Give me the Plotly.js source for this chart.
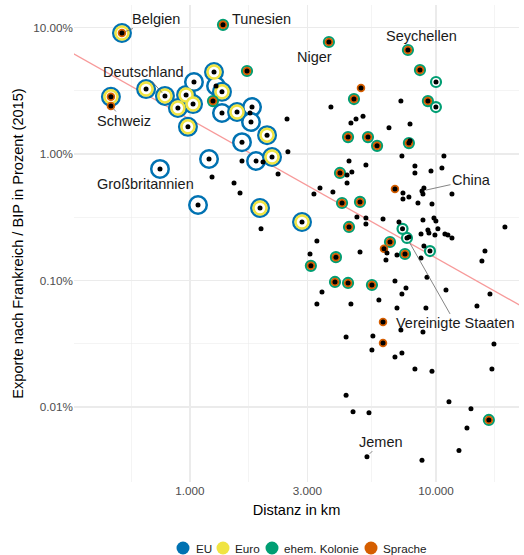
<!DOCTYPE html>
<html><head><meta charset="utf-8">
<script src="https://cdn.plot.ly/plotly-3.0.1.min.js"></script>
<style>body{margin:0;background:#fff}</style></head>
<body><div id="chart" style="width:524px;height:555px"></div>
<script>
// ---- Daten ----
const land = ["Belgien","Tunesien","Niger","Seychellen","Deutschland","Schweiz","Großbritannien","China","Vereinigte Staaten","Jemen"];
const distanz = [529,1362,3670,7690,791,477,755,8770,7620,5240,
 477,663,964,893,1029,981,1038,1252,1276,1349,1349,1553,1787,1770,1627,1855,2155,2057,1195,1078,1926,2853,
 1754,1229,1627,1981,1510,1597,1944,2480,2500,2280,
 1705,1240,8605,10000,9270,9990,4955,4640,4390,5290,5760,7760,4071,4150,4909,4430,6500,6145,7480,6810,3100,3920,3885,4390,5490,6090,6090,16400,7310,9450,
 3740,7200,5050,4730,4510,6440,7840,7840,4430,5190,4350,4550,4350,3376,3190,3810,7270,8210,8210,9540,10770,10570,
 8930,8850,7340,7760,7340,8445,9630,11610,4770,5190,5190,6090,3280,3075,4910,7070,7760,6320,6940,6260,
 8850,9810,9990,9270,9360,10180,9900,8690,10870,11180,11610,8930,8690,19060,15810,15370,
 6810,7550,7270,9190,3440,3280,4510,5860,6940,9100,10980,16570,14670,7200,8850,4310,5540,5490,6810,7270,8210,9630,
 17200,16880,4310,4600,5340,11290,13870,13360,12400,8770];
const anteil = [9.05,10.5,7.68,6.64,2.88,2.40,0.762,0.510,0.217,0.00405,
 2.83,3.26,2.93,2.31,2.48,1.64,3.71,4.45,3.45,3.10,2.11,2.15,2.35,1.79,1.24,0.881,0.947,1.41,0.913,0.395,0.374,0.290,
 2.11,0.659,0.881,0.865,0.590,0.491,0.256,1.89,1.04,0.696,
 4.53,2.62,4.61,3.71,2.62,2.35,3.32,2.72,1.36,1.36,1.16,1.22,0.708,0.410,0.418,0.265,0.2015,0.178,0.162,0.529,0.1306,0.153,0.0974,0.0956,0.0921,0.0470,0.0321,0.0079,0.256,0.171,
 2.35,2.62,1.99,1.89,1.76,1.61,1.73,1.27,0.881,0.819,0.683,0.721,0.590,0.539,0.483,0.500,0.964,0.804,0.708,0.734,0.964,0.776,
 0.539,0.483,0.491,0.457,0.441,0.410,0.403,0.483,0.318,0.3125,0.280,0.307,0.205,0.162,0.168,0.290,0.221,0.165,0.159,0.145,
 0.301,0.3125,0.296,0.251,0.2375,0.256,0.229,0.233,0.233,0.229,0.217,0.1876,0.1506,0.265,0.171,0.1424,
 0.0992,0.0872,0.0782,0.106,0.0811,0.0652,0.0652,0.0701,0.0606,0.0606,0.0841,0.0782,0.0628,0.0406,0.0392,0.0358,0.0364,0.0282,0.0249,0.0267,0.0200,0.0192,
 0.0315,0.0200,0.0124,0.00916,0.0090,0.0110,0.00967,0.00682,0.00452,0.0038];
// E = EU, U = Euro, K = ehem. Kolonie, S = Sprache
const merkmal = ["EUS","KS","KS","KS","EU","S","E","","K","",
 "EUS","EU","EU","EU","EU","EU","E","EU","E","EU","E","EU","E","E","E","E","EU","EU","E","E","EU","EU",
 "","","","","","","","","","",
 "KS","KS","KS","K","KS","K","S","KS","KS","KS","KS","KS","KS","KS","KS","KS","KS","S","KS","S","KS","KS","KS","KS","KS","S","S","KS","K","K"];
const fitDistanz = [300, 30000];
const fitAnteil = [7.03, 0.0452];
const xTickWerte = [1000, 3000, 10000];
const xTickText = ["1.000", "3.000", "10.000"];
const yTickWerte = [0.01, 0.1, 1, 10];
const yTickText = ["0.01%", "0.10%", "1.00%", "10.00%"];
const xMinor = [577.4, 1732, 5477, 17320];
const yMinor = [0.0316, 0.316, 3.16];
const legende = ["EU", "Euro", "ehem. Kolonie", "Sprache"];

// ---- Stil ----
const farbe = {E:"#0072B2", U:"#F0E442", K:"#009E73", S:"#D55E00"};
const FONT = "Liberation Sans, Arial, Helvetica, sans-serif";
const M = {l:74, r:5, t:5, b:73};
const W = 524, H = 555;
const PW = W - M.l - M.r, PH = H - M.t - M.b;
const labelStil = {
  "Belgien": {ax:34, ay:-14, pfeil:true},
  "Tunesien": {xs:38, ys:6},
  "Niger": {xs:-14, ys:-15},
  "Seychellen": {xs:14, ys:14},
  "Deutschland": {ax:-21.5, ay:-24, pfeil:true},
  "Schweiz": {ax:13.5, ay:15, pfeil:true},
  "Großbritannien": {xs:-14, ys:-15},
  "China": {ax:49.5, ay:-11, pfeil:true},
  "Vereinigte Staaten": {ax:48.5, ay:85.5, pfeil:true, stand:6},
  "Jemen": {ax:14.5, ay:-15, pfeil:true}
};
// Legend layout (pixel positions of swatch centres / text starts)
const legSwatchPx = [183, 223, 272, 371];
const legTextPx = [195, 234, 283, 382];
const legYpx = 548;

function idx(code){
  const r = [];
  for (let i = 0; i < distanz.length; i++) if ((merkmal[i] || "").indexOf(code) >= 0) r.push(i);
  return r;
}
function ring(code, size, lw, fill){
  const ii = idx(code);
  return {x: ii.map(i=>distanz[i]), y: ii.map(i=>anteil[i]), type:"scatter", mode:"markers",
    hoverinfo:"skip", showlegend:false, cliponaxis:false,
    marker:{size:size, color: fill || "#ffffff", line:{color: farbe[code], width: lw}}};
}

const traces = [
  {x:fitDistanz, y:fitAnteil, type:"scatter", mode:"lines", hoverinfo:"skip", showlegend:false,
   line:{color:"#F79A9A", width:1.3}},
  ring("E", 17.5, 2.5),
  ring("U", 13, 2.5),
  ring("K", 10, 2.2),
  (function(){ const t = ring("S", 8.5, 0, farbe.S); t.marker.line = {width:0}; return t; })(),
  {x:distanz, y:anteil, type:"scatter", mode:"markers", hoverinfo:"skip", showlegend:false, cliponaxis:false,
   marker:{size:5, color:"#000000", line:{width:0}}}
];

const annotations = land.map((n,i)=>{
  const s = labelStil[n];
  const a = {x:Math.log10(distanz[i]), y:Math.log10(anteil[i]), xref:"x", yref:"y", text:n,
    font:{family:FONT, size:14.5, color:"#1a1a1a"}};
  if (s.pfeil){
    Object.assign(a, {showarrow:true, arrowhead:0, arrowwidth:0.8, arrowcolor:"#666666",
      ax:s.ax, ay:s.ay, standoff:s.stand || 4});
  } else {
    Object.assign(a, {showarrow:false, xshift:s.xs, yshift:s.ys});
  }
  return a;
});

// custom legend (swatches + text)
const px2x = p => (p - M.l) / PW;
const px2y = p => (H - M.b - p) / PH;
const shapes = [];
["E","U","K","S"].forEach((c,k)=>{
  shapes.push({type:"circle", xref:"paper", yref:"paper", xsizemode:"pixel", ysizemode:"pixel",
    xanchor:px2x(legSwatchPx[k]), yanchor:px2y(legYpx), x0:-6.5, x1:6.5, y0:-6.5, y1:6.5,
    fillcolor:farbe[c], line:{width:0}, layer:"above"});
  annotations.push({xref:"paper", yref:"paper", x:px2x(legTextPx[k]), y:px2y(legYpx),
    xanchor:"left", yanchor:"middle", showarrow:false, text:legende[k], borderpad:0,
    font:{family:FONT, size:11.7, color:"#1a1a1a"}});
});

const axisBase = {showline:false, zeroline:false, ticks:"", showgrid:true, gridcolor:"#EBEBEB", gridwidth:1.1,
  tickfont:{family:FONT, size:11.7, color:"#4D4D4D"}, automargin:false, tickmode:"array"};

const layout = {
  width:W, height:H,
  margin:M,
  paper_bgcolor:"#ffffff", plot_bgcolor:"#ffffff",
  font:{family:FONT},
  showlegend:false,
  xaxis:Object.assign({}, axisBase, {type:"log", range:[2.5285, 4.3374],
    tickvals:xTickWerte, ticktext:xTickText,
    minor:{tickmode:"array", tickvals:xMinor, showgrid:true, gridcolor:"#EBEBEB", gridwidth:0.55, ticks:""},
    title:{text:"Distanz in km", font:{family:FONT, size:14.6, color:"#000"}, standoff:9}}),
  yaxis:Object.assign({}, axisBase, {type:"log", range:[-2.5929, 1.1779],
    tickvals:yTickWerte, ticktext:yTickText,
    minor:{tickmode:"array", tickvals:yMinor, showgrid:true, gridcolor:"#EBEBEB", gridwidth:0.55, ticks:""},
    title:{text:"Exporte nach Frankreich / BIP in Prozent (2015)", font:{family:FONT, size:14.6, color:"#000"}, standoff:6}}),
  annotations:annotations,
  shapes:shapes
};

Plotly.newPlot("chart", traces, layout, {displayModeBar:false, staticPlot:true});
</script>
</body></html>
